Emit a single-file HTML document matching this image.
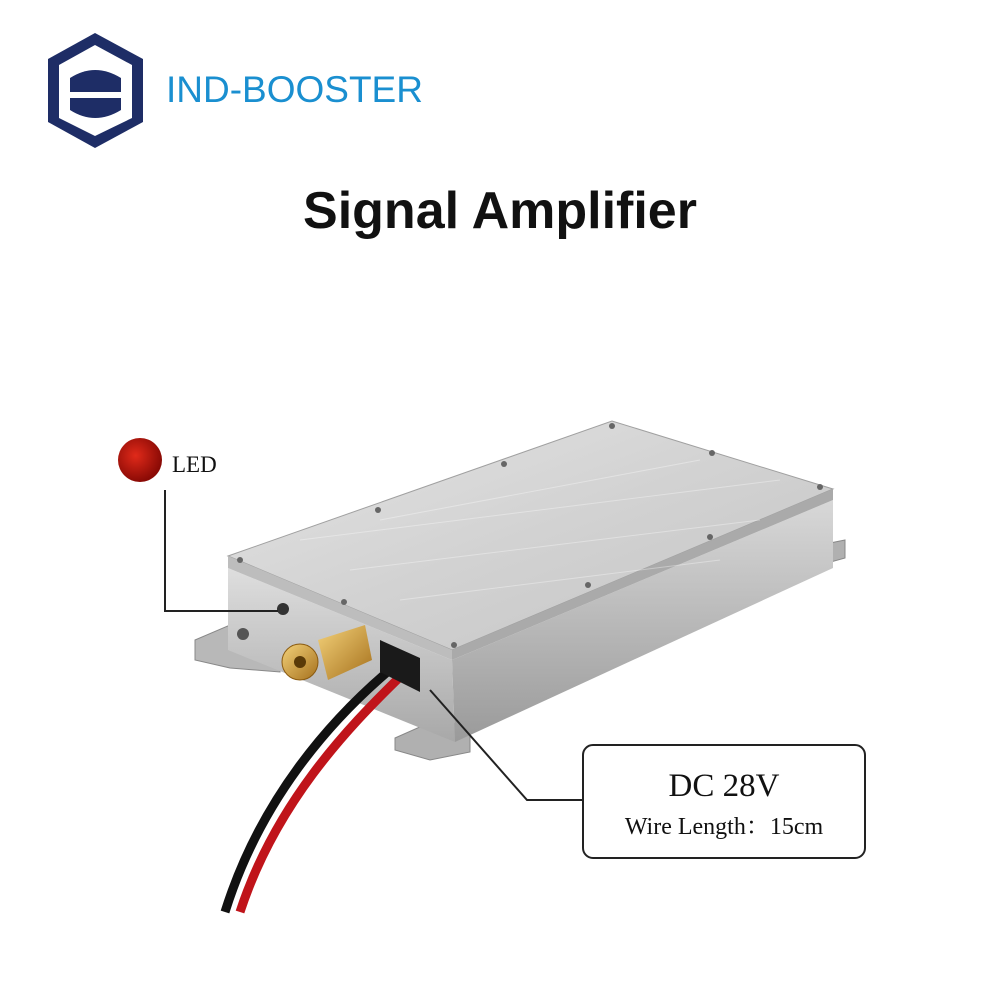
<!DOCTYPE html>
<html><head><meta charset="utf-8"><style>
html,body{margin:0;padding:0;background:#fff;}
body{width:1000px;height:1000px;overflow:hidden;}
</style></head><body>
<svg width="1000" height="1000" viewBox="0 0 1000 1000" xmlns="http://www.w3.org/2000/svg">
<defs>
<linearGradient id="top" x1="0" y1="0" x2="1" y2="1">
<stop offset="0" stop-color="#e4e4e4"/><stop offset="0.5" stop-color="#d2d2d2"/><stop offset="1" stop-color="#c4c4c4"/></linearGradient>
<linearGradient id="side" x1="0" y1="0" x2="0" y2="1">
<stop offset="0" stop-color="#d8d8d8"/><stop offset="1" stop-color="#9a9a9a"/></linearGradient>
<linearGradient id="endf" x1="0" y1="0" x2="0" y2="1">
<stop offset="0" stop-color="#dedede"/><stop offset="1" stop-color="#a8a8a8"/></linearGradient>
<radialGradient id="led" cx="0.4" cy="0.4" r="0.6">
<stop offset="0" stop-color="#e02a1a"/><stop offset="1" stop-color="#8a0a05"/></radialGradient>
<linearGradient id="gold" x1="0" y1="0" x2="1" y2="1">
<stop offset="0" stop-color="#f4d27a"/><stop offset="1" stop-color="#a5701c"/></linearGradient>
</defs>
<polygon points="95,33 143,59 143,122 95,148 48,122 48,59" fill="#1e2d66"/>
<polygon points="95,45 132,65 132,118 95,136 59,118 59,65" fill="#fff"/>
<path d="M70,78 Q95,62 121,78 L121,92 L70,92 Z" fill="#1e2d66"/>
<path d="M70,98 L121,98 L121,110 Q95,126 70,110 Z" fill="#1e2d66"/>
<text x="166" y="102" font-family="Liberation Sans, sans-serif" font-size="37" fill="#1a8fd0">IND-BOOSTER</text>
<text x="500" y="228" text-anchor="middle" font-family="Liberation Sans, sans-serif" font-weight="bold" font-size="52" fill="#111">Signal Amplifier</text>
<polygon points="195,640 230,625 280,648 280,672 230,668 195,660" fill="#b8b8b8" stroke="#888"/>
<polygon points="395,738 440,718 470,730 470,752 430,760 395,750" fill="#b0b0b0" stroke="#888"/>
<polygon points="820,545 845,540 845,558 820,565" fill="#b0b0b0" stroke="#888"/>
<polygon points="228,568 452,660 455,742 228,650" fill="url(#endf)"/>
<polygon points="452,660 833,500 833,568 455,742" fill="url(#side)"/>
<polygon points="228,556 612,421 833,489 452,650" fill="url(#top)" stroke="#a0a0a0"/>
<polygon points="228,556 452,650 452,660 228,568" fill="#bdbdbd"/>
<polygon points="452,650 833,489 833,500 452,660" fill="#aaa"/>
<g stroke="#fff" stroke-opacity="0.35" stroke-width="1">
<line x1="300" y1="540" x2="780" y2="480"/><line x1="350" y1="570" x2="760" y2="520"/>
<line x1="400" y1="600" x2="720" y2="560"/><line x1="380" y1="520" x2="700" y2="460"/>
</g>
<g fill="#666">
<circle cx="240" cy="560" r="3"/><circle cx="378" cy="510" r="3"/><circle cx="504" cy="464" r="3"/>
<circle cx="612" cy="426" r="3"/><circle cx="712" cy="453" r="3"/><circle cx="820" cy="487" r="3"/>
<circle cx="710" cy="537" r="3"/><circle cx="588" cy="585" r="3"/><circle cx="454" cy="645" r="3"/>
<circle cx="344" cy="602" r="3"/>
</g>
<circle cx="283" cy="609" r="6" fill="#333"/>
<circle cx="243" cy="634" r="6" fill="#555"/>
<path d="M392,668 C330,720 260,800 225,912" stroke="#111" stroke-width="9" fill="none"/>
<path d="M402,675 C345,730 275,805 240,912" stroke="#c0141a" stroke-width="9" fill="none"/>
<polygon points="380,640 420,658 420,692 380,672" fill="#1a1a1a"/>
<polygon points="318,640 365,625 372,660 328,680" fill="url(#gold)"/>
<circle cx="300" cy="662" r="18" fill="url(#gold)" stroke="#8a5a10"/>
<circle cx="300" cy="662" r="6" fill="#5a3a08"/>
<circle cx="140" cy="460" r="22" fill="url(#led)"/>
<text x="172" y="472" font-family="Liberation Serif, serif" font-size="23" fill="#111">LED</text>
<polyline points="165,490 165,611 278,611" fill="none" stroke="#222" stroke-width="2"/>
<polyline points="430,690 527,800 583,800" fill="none" stroke="#222" stroke-width="2"/>
<rect x="583" y="745" width="282" height="113" rx="10" fill="#fff" stroke="#222" stroke-width="2"/>
<text x="724" y="796" text-anchor="middle" font-family="Liberation Serif, serif" font-size="33" fill="#111">DC 28V</text>
<text x="724" y="834" text-anchor="middle" font-family="Liberation Serif, 'Noto Serif CJK SC', serif" font-size="24" fill="#111">Wire Length：15cm</text>
</svg>
</body></html>
